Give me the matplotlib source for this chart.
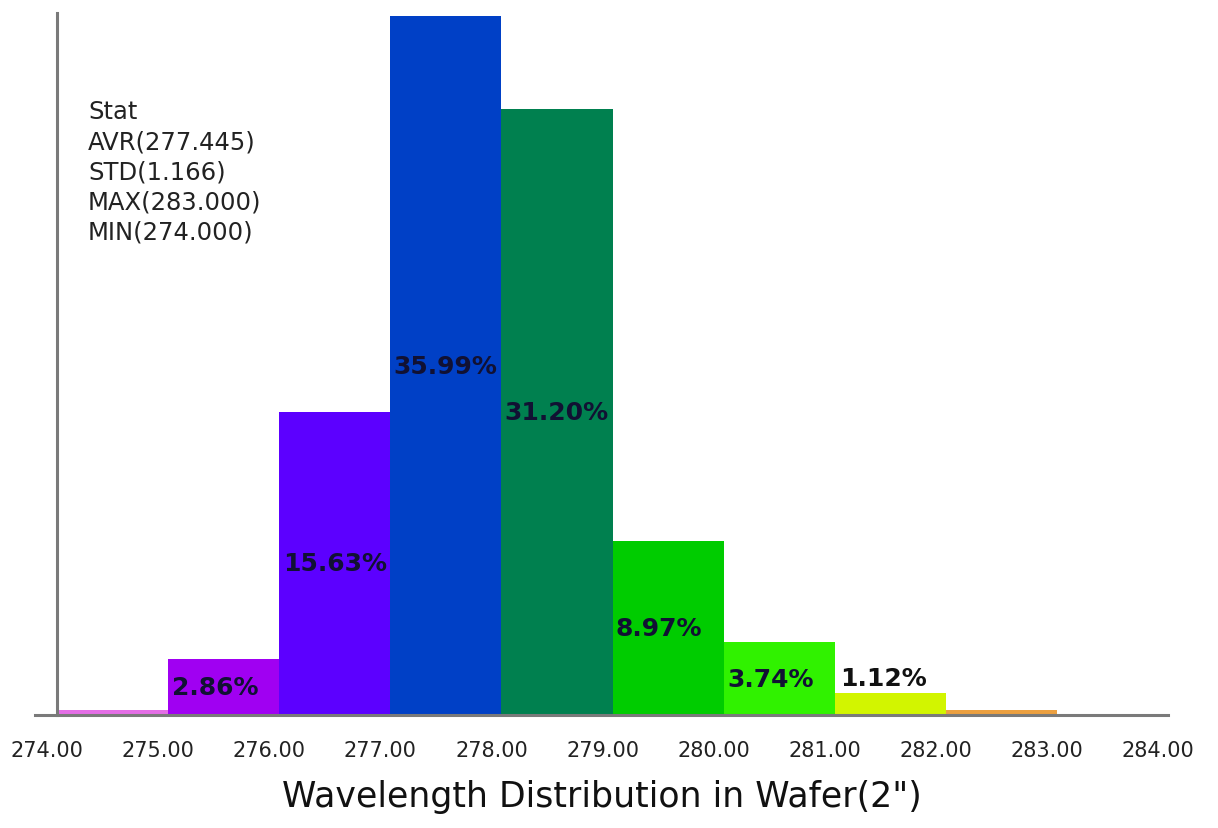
import numpy as np
import matplotlib
matplotlib.use('Agg')
from matplotlib import pyplot as plt
import matplotlib.transforms as mtransforms

# wavelength bins (left edge, nm) and share of dies in each bin (%)
bin_left = [274, 275, 276, 277, 278, 279, 280, 281, 282]
percent = [0.25, 2.86, 15.63, 35.99, 31.20, 8.97, 3.74, 1.12, 0.24]
labels = ['', '2.86%', '15.63%', '35.99%', '31.20%', '8.97%', '3.74%', '1.12%', '']
colors = ['#e46ee6', '#a000f2', '#5c00ff', '#0040c6', '#00804f',
          '#00cc00', '#30f200', '#d2f500', '#eca040']
ticks = [274, 275, 276, 277, 278, 279, 280, 281, 282, 283, 284]
stat_lines = ['Stat', 'AVR(277.445)', 'STD(1.166)', 'MAX(283.000)', 'MIN(274.000)']

fig = plt.figure(figsize=(12.18, 8.29), dpi=100)
ax = fig.add_axes([0.0287, 0.1363, 0.9302, 0.8467])

ax.bar(bin_left, percent, width=1.0, align='edge', color=colors, linewidth=0)

for x, h, lab in zip(bin_left, percent, labels):
    if not lab:
        continue
    if h < 2:
        ax.text(x + 0.05, h + 0.15, lab, ha='left', va='bottom',
                fontsize=18, fontweight='bold', color='#111111')
    else:
        ax.text(x + 0.03, h / 2, lab, ha='left', va='center',
                fontsize=18, fontweight='bold', color='#111133')

ax.set_xlim(273.8, 284)
ax.set_ylim(0, 36.15)

for s in ['top', 'right']:
    ax.spines[s].set_visible(False)
ax.spines['left'].set_position(('data', 274))
for s in ['left', 'bottom']:
    ax.spines[s].set_color('#7a7a7a')
    ax.spines[s].set_linewidth(2.2)

ax.set_yticks([])
ax.set_xticks(ticks)
ax.set_xticklabels(['%.2f' % t for t in ticks], fontsize=15, color='#222222')
ax.tick_params(axis='x', length=0, pad=18)
shift = mtransforms.ScaledTranslation(-10 / 100, 0, fig.dpi_scale_trans)
for lbl in ax.get_xticklabels():
    lbl.set_transform(lbl.get_transform() + shift)

ax.set_xlabel('Wavelength Distribution in Wafer(2")', fontsize=25,
              color='#111111', labelpad=14)

ax.text(0.0468, 0.877, '\n'.join(stat_lines), transform=ax.transAxes,
        ha='left', va='top', fontsize=17.5, linespacing=1.32, color='#222222')

fig.savefig('out.png', dpi=100)
